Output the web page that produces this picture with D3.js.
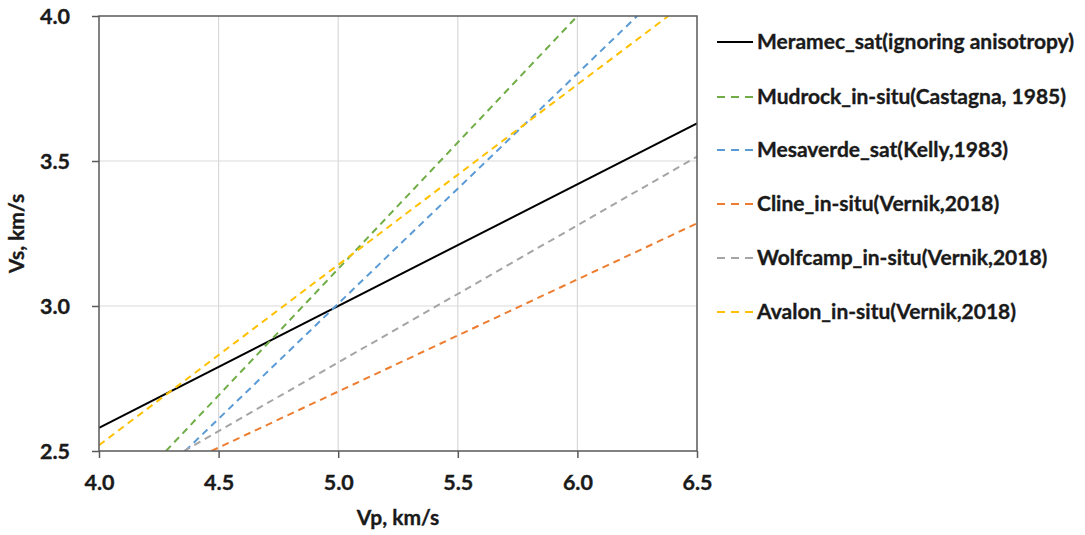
<!DOCTYPE html>
<html>
<head>
<meta charset="utf-8">
<script src="https://cdn.jsdelivr.net/npm/d3@7"></script>
<style>
  html, body { margin: 0; padding: 0; background: #fff; }
  svg text { font-family: Lato, "Open Sans", sans-serif; font-weight: bold; fill: #1a1a1a; stroke: #1a1a1a; stroke-width: 0.35px; }
</style>
</head>
<body>
<div id="container"></div>
<script>
// Series: Vp (km/s) and Vs (km/s) end points
const seriesNames = [
  "Meramec_sat(ignoring anisotropy)",
  "Mudrock_in-situ(Castagna, 1985)",
  "Mesaverde_sat(Kelly,1983)",
  "Cline_in-situ(Vernik,2018)",
  "Wolfcamp_in-situ(Vernik,2018)",
  "Avalon_in-situ(Vernik,2018)"
];
const meramecVp   = [4.0, 6.5];
const meramecVs   = [2.58, 3.63];
const mudrockVp   = [4.28, 6.0];
const mudrockVs   = [2.5, 4.0];
const mesaverdeVp = [4.36, 6.25];
const mesaverdeVs = [2.5, 4.0];
const clineVp     = [4.47, 6.5];
const clineVs     = [2.5, 3.285];
const wolfcampVp  = [4.355, 6.5];
const wolfcampVs  = [2.5, 3.515];
const avalonVp    = [4.0, 6.38];
const avalonVs    = [2.52, 4.0];

const xTicks = [4.0, 4.5, 5.0, 5.5, 6.0, 6.5];
const yTicks = [2.5, 3.0, 3.5, 4.0];

const colors = ["#000000", "#70AD47", "#5B9BD5", "#ED7D31", "#A5A5A5", "#FFC000"];
const dashed = [false, true, true, true, true, true];

const width  = 1085;
const height = 535;
const margin = { top: 16, right: 388, bottom: 84, left: 99 };

const vpList = [meramecVp, mudrockVp, mesaverdeVp, clineVp, wolfcampVp, avalonVp];
const vsList = [meramecVs, mudrockVs, mesaverdeVs, clineVs, wolfcampVs, avalonVs];
const series = seriesNames.map((name, i) => ({
  name,
  points: vpList[i].map((vp, j) => ({ vp, vs: vsList[i][j] }))
}));

const svg = d3.select("#container")
  .append("svg")
    .attr("width", width)
    .attr("height", height);

const x = d3.scaleLinear()
  .domain([4.0, 6.5])
  .range([margin.left, width - margin.right]);

const y = d3.scaleLinear()
  .domain([2.5, 4.0])
  .range([height - margin.bottom, margin.top]);

// Gridlines
svg.append("g")
  .selectAll("line")
  .data(xTicks.slice(1, -1))
  .join("line")
    .attr("x1", d => x(d)).attr("x2", d => x(d))
    .attr("y1", y(2.5)).attr("y2", y(4.0))
    .attr("stroke", "#d9d9d9")
    .attr("stroke-width", 1.2);

svg.append("g")
  .selectAll("line")
  .data(yTicks.slice(1, -1))
  .join("line")
    .attr("x1", x(4.0)).attr("x2", x(6.5))
    .attr("y1", d => y(d)).attr("y2", d => y(d))
    .attr("stroke", "#d9d9d9")
    .attr("stroke-width", 1.2);

// Clip
svg.append("clipPath").attr("id", "plot")
  .append("rect")
    .attr("x", x(4.0)).attr("y", y(4.0))
    .attr("width", x(6.5) - x(4.0))
    .attr("height", y(2.5) - y(4.0));

// Lines
const line = d3.line().x(d => x(d.vp)).y(d => y(d.vs));

svg.append("g")
  .attr("clip-path", "url(#plot)")
  .selectAll("path")
  .data(series)
  .join("path")
    .attr("d", d => line(d.points))
    .attr("fill", "none")
    .attr("stroke", (d, i) => colors[i])
    .attr("stroke-width", 2)
    .attr("stroke-dasharray", (d, i) => dashed[i] ? "7,5" : null);

// Plot border
svg.append("rect")
  .attr("x", x(4.0)).attr("y", y(4.0))
  .attr("width", x(6.5) - x(4.0))
  .attr("height", y(2.5) - y(4.0))
  .attr("fill", "none")
  .attr("stroke", "#595959")
  .attr("stroke-width", 1.5);

// Axes
const xAxis = svg.append("g")
  .attr("transform", `translate(0,${y(2.5)})`)
  .call(d3.axisBottom(x).tickValues(xTicks).tickFormat(d3.format(".1f")).tickSize(7).tickPadding(17));

const yAxis = svg.append("g")
  .attr("transform", `translate(${x(4.0)},0)`)
  .call(d3.axisLeft(y).tickValues(yTicks).tickFormat(d3.format(".1f")).tickSize(7).tickPadding(22));

[xAxis, yAxis].forEach(g => {
  g.select(".domain").remove();
  g.selectAll(".tick line").attr("stroke", "#595959").attr("stroke-width", 1.5);
  g.selectAll(".tick text")
    .attr("font-size", 21.5)
    .attr("font-family", "Lato, 'Open Sans', sans-serif")
    .attr("font-weight", "bold")
    .attr("fill", "#1a1a1a");
});
yAxis.selectAll(".tick text").attr("dy", "0.36em");

// Axis titles
svg.append("text")
  .attr("x", (x(4.0) + x(6.5)) / 2)
  .attr("y", 525)
  .attr("text-anchor", "middle")
  .attr("font-size", 21)
  .text("Vp, km/s");

svg.append("text")
  .attr("transform", `translate(24,${(y(2.5) + y(4.0)) / 2}) rotate(-90)`)
  .attr("text-anchor", "middle")
  .attr("font-size", 21)
  .text("Vs, km/s");

// Legend
const legendY = [42, 97, 150, 204, 258, 312];
const legend = svg.append("g")
  .selectAll("g")
  .data(series)
  .join("g")
    .attr("transform", (d, i) => `translate(717,${legendY[i]})`);

legend.append("line")
  .attr("x1", 0).attr("x2", 36)
  .attr("y1", 0).attr("y2", 0)
  .attr("stroke", (d, i) => colors[i])
  .attr("stroke-width", 2)
  .attr("stroke-dasharray", (d, i) => dashed[i] ? "8,6" : null);

legend.append("text")
  .attr("x", 40)
  .attr("dy", "0.35em")
  .attr("font-size", 21)
  .text(d => d.name);
</script>
</body>
</html>
